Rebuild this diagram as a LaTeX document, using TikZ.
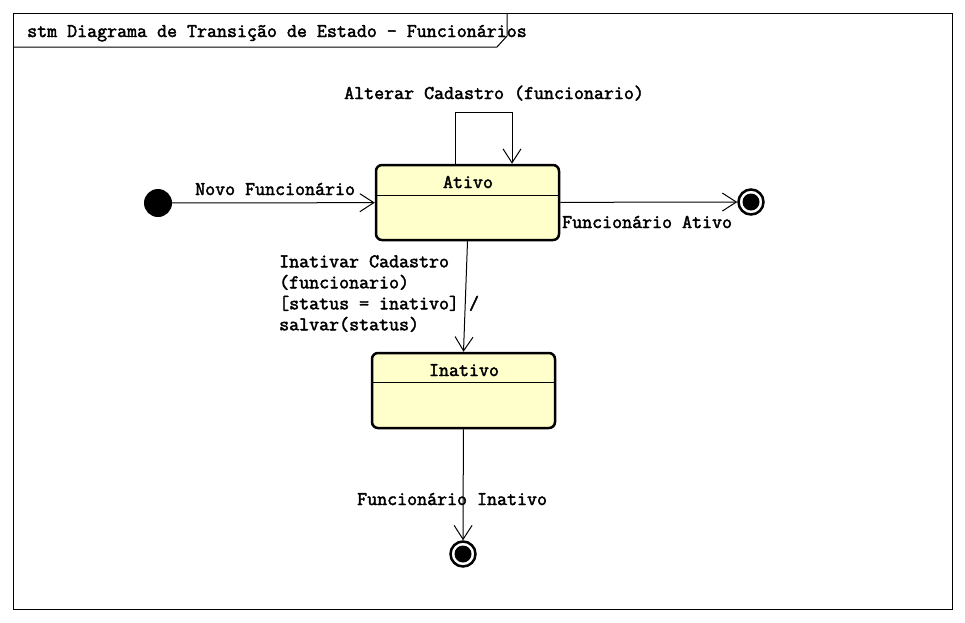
\documentclass[tikz,border=0pt]{standalone}
\usepackage{fontspec}
\newfontfamily\diagfont{Latin Modern Mono}[FakeBold=2.2]
\usetikzlibrary{arrows.meta}
\definecolor{stfill}{HTML}{FFFFCC}
\tikzset{
  statebox/.style={draw=black, line width=2.5pt, rounded corners=6pt, fill=stfill,
    minimum width=183pt, minimum height=75pt, inner sep=0pt},
  stname/.style={inner sep=0pt, anchor=base},
  lbl/.style={inner sep=0pt, anchor=base west, align=left},
  initst/.style={circle, fill=black, minimum size=28pt, inner sep=0pt},
  finalst/.style={circle, draw=black, line width=2.5pt, fill=white, minimum size=25pt, inner sep=0pt,
    path picture={\fill[black] (path picture bounding box.center) circle (8.5pt);}},
  arr/.style={line width=1pt, -{Straight Barb[length=14pt,width=18pt,line width=1pt]}},
  frame/.style={line width=1pt}
}
\begin{document}
\begin{tikzpicture}[x=1pt,y=-1pt, font=\diagfont\fontsize{19.4}{21}\selectfont]
\useasboundingbox[fill=white] (0,0) rectangle (965,622);
% frame
\draw[frame] (13,13) rectangle (952,609);
\draw[frame] (13,47) -- (497,47) -- (507,36) -- (507,13);
\node[lbl] (title) at (27,37) {stm Diagrama de Transição de Estado - Funcionários};
% states
\node[initst] (init) at (158,203) {};
\node[statebox] (ativo) at (467.5,202.5) {};
\draw[line width=1pt] ([yshift=-32pt]ativo.north west) -- ([yshift=-32pt]ativo.north east);
\node[stname] (ativoL) at (468,188) {Ativo};
\node[statebox] (inativo) at (463.5,390.5) {};
\draw[line width=1pt] ([yshift=-31pt]inativo.north west) -- ([yshift=-31pt]inativo.north east);
\node[stname] (inativoL) at (464,376) {Inativo};
\node[finalst] (fin1) at (751,202) {};
\node[finalst] (fin2) at (463,554) {};
% transitions
\draw[arr] (init) -- (ativo);
\node[lbl] (l1) at (195,195) {Novo Funcionário};
\draw[arr] ([xshift=-12.5pt]ativo.north) -- ++(0,-51) -| ([xshift=44.5pt]ativo.north);
\node[lbl] (l2) at (344,99) {Alterar Cadastro (funcionario)};
\draw[arr] (ativo) -- (fin1);
\node[lbl] (l3) at (562,228) {Funcionário Ativo};
\draw[arr] (ativo.south) -- (inativo.north);
\node[lbl, anchor=north west] (l4) at (279,255) {Inativar Cadastro\\(funcionario)\\{[status = inativo]} /\\salvar(status)};
\draw[arr] (inativo) -- (fin2);
\node[lbl] (l5) at (357,505) {Funcionário Inativo};
\end{tikzpicture}
\end{document}
